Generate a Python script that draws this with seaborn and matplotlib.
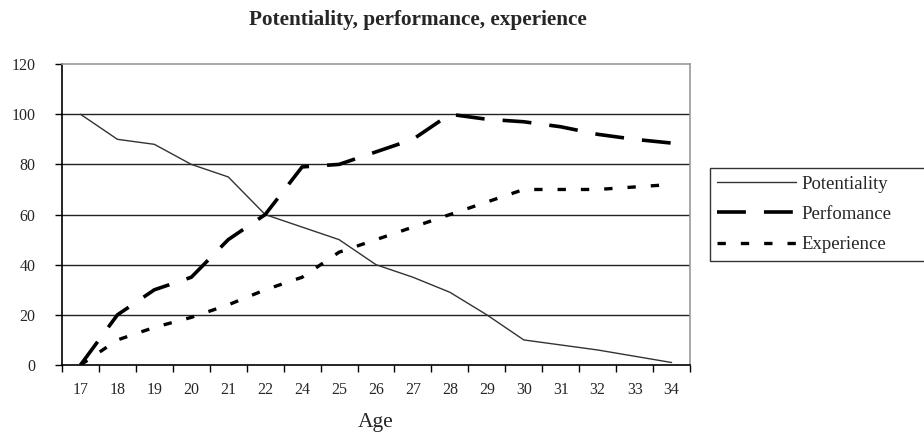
import matplotlib
matplotlib.use('Agg')
import matplotlib.pyplot as plt
import seaborn as sns
import pandas as pd
import numpy as np
from matplotlib.lines import Line2D

ages = ['17', '18', '19', '20', '21', '22', '24', '25', '26', '27', '28',
        '29', '30', '31', '32', '33', '34']
potentiality = [100, 90, 88, 80, 75, 60, 55, 50, 40, 35, 29, 20, 10, 8, 6, 3.5, 1]
performance = [0, 20, 30, 35, 50, 60, 79, 80, 85, 90, 100, 98, 97, 95, 92, 90, 88.5]
experience = [0, 10, 15, 19, 24, 30, 35, 45, 50, 55, 60, 65, 70, 70, 70, 71, 72]
series_names = ['Potentiality', 'Perfomance', 'Experience']

sns.set_style('white')
plt.rcParams['font.family'] = ['Liberation Serif', 'DejaVu Serif']

fig = plt.figure(figsize=(9.24, 4.33), dpi=100)
ax = fig.add_axes([0.0671, 0.157, 0.6797, 0.695])

pos = np.arange(len(ages))
df = pd.DataFrame({'pos': pos, 'Potentiality': potentiality,
                   'Perfomance': performance, 'Experience': experience})

styles = {
    'Potentiality': dict(color='#333333', lw=1.0, linestyle='-'),
    'Perfomance': dict(color='black', lw=2.6, linestyle=(0, (8, 5))),
    'Experience': dict(color='black', lw=2.4, linestyle=(0, (2.5, 4.5))),
}

for name in series_names:
    sns.lineplot(data=df, x='pos', y=name, ax=ax, **styles[name])

ax.set_xlim(-0.5, len(ages) - 0.5)
ax.set_ylim(0, 120)
ax.set_yticks(range(0, 121, 20))
ax.tick_params(axis='y', which='major', length=5, width=1, color='black',
               direction='out', left=True, labelsize=11.5, pad=14)

ax.set_xticks(np.arange(-0.5, len(ages), 1.0))
ax.set_xticklabels([])
ax.tick_params(axis='x', which='major', length=5, width=1, color='black',
               direction='out', bottom=True)
ax.set_xticks(pos, minor=True)
ax.set_xticklabels(ages, minor=True)
ax.tick_params(axis='x', which='minor', length=0, labelsize=11.5, pad=12)

for v in range(20, 101, 20):
    ax.axhline(v, color='#222222', lw=1.0, zorder=0)

for s in ['left', 'bottom']:
    ax.spines[s].set_color('black')
    ax.spines[s].set_linewidth(1.2)
for s in ['top', 'right']:
    ax.spines[s].set_color('#999999')
    ax.spines[s].set_linewidth(1.2)

ax.set_ylabel('')
ax.set_xlabel('Age', fontsize=15.5, labelpad=11)

fig.text(0.452, 0.953, 'Potentiality, performance, experience',
         ha='center', va='center', fontsize=15.3, fontweight='bold')

handles = [Line2D([], [], **styles[n]) for n in series_names]
leg = fig.legend(handles, series_names, loc='upper left',
                 bbox_to_anchor=(0.768, 0.404, 0.26, 0.208), mode='expand',
                 fontsize=13.5, handlelength=4.2, frameon=True, fancybox=False,
                 borderaxespad=0, borderpad=0.4, labelspacing=0.7,
                 handletextpad=0.3)
leg.get_frame().set_edgecolor('black')
leg.get_frame().set_linewidth(1.0)

fig.savefig('out.png', dpi=100)
